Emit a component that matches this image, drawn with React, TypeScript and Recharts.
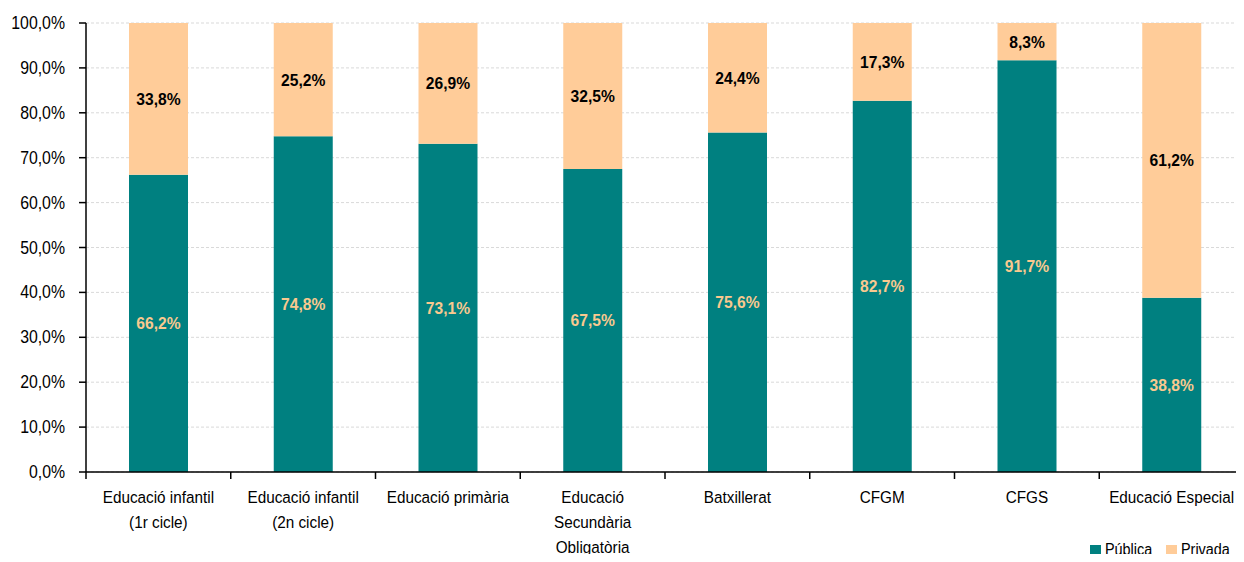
import React from 'react'
import { Bar, BarChart, CartesianGrid, LabelList, XAxis, YAxis } from 'recharts'

const categories = [
  'Educació infantil\n(1r cicle)',
  'Educació infantil\n(2n cicle)',
  'Educació primària',
  'Educació\nSecundària\nObligatòria',
  'Batxillerat',
  'CFGM',
  'CFGS',
  'Educació Especial',
]
const publica = [66.2, 74.8, 73.1, 67.5, 75.6, 82.7, 91.7, 38.8]
const privada = [33.8, 25.2, 26.9, 32.5, 24.4, 17.3, 8.3, 61.2]
const yTicks = [0, 10, 20, 30, 40, 50, 60, 70, 80, 90, 100]

const data = categories.map((name, i) => ({ name, publica: publica[i], privada: privada[i] }))

const TEAL = '#008080'
const PEACH = '#FFCC99'
const FONT = 'Liberation Sans, Arial, sans-serif'
const fmt = (v: number) => v.toFixed(1).replace('.', ',') + '%'

// category labels plus tick marks on the band boundaries (Excel style)
const CategoryTick = ({ x, y, payload, index, visibleTicksCount, width }: any) => {
  const lines = String(payload.value).split('\n')
  const n = visibleTicksCount || categories.length
  const half = payload.offset || width / n / 2
  const isLast = index === n - 1
  const ay = y - 8 // axis line position (tick y includes tickSize + margin)
  return (
    <g>
      {index === 0 && <line x1={x - half} x2={x - half + width} y1={ay} y2={ay} stroke="#000" strokeWidth={1.5} />}
      <line x1={x - half} x2={x - half} y1={ay} y2={ay + 7} stroke="#000" strokeWidth={1.5} />
      {isLast && <line x1={x + half} x2={x + half} y1={ay} y2={ay + 7} stroke="#000" strokeWidth={1.5} />}
      <g transform={`translate(${x},${y}) scale(0.9,1)`}>
        <text x={0} y={23} textAnchor="middle" fontSize={17} fill="#000" fontFamily={FONT}>
          {lines.map((l, i) => (
            <tspan key={i} x={0} dy={i === 0 ? 0 : 25}>{l}</tspan>
          ))}
        </text>
      </g>
    </g>
  )
}

const ValueTick = ({ x, y, payload }: any) => (
  <g transform={`translate(${x - 12},${y}) scale(0.88,1)`}>
    <text x={0} y={6} textAnchor="end" fontSize={18} fill="#000" fontFamily={FONT}>
      {fmt(payload.value)}
    </text>
  </g>
)

const makeLabel = (color: string) => (props: any) => {
  const { x, y, width, height, value } = props
  const cx = Number(x) + Number(width) / 2
  const cy = Number(y) + Number(height) / 2
  return (
    <g transform={`translate(${cx},${cy}) scale(0.92,1)`}>
      <text x={0} y={6} textAnchor="middle" fontSize={17} fontWeight="bold" fill={color} fontFamily={FONT}>
        {fmt(Number(value))}
      </text>
    </g>
  )
}

export default function App() {
  return (
    <div style={{ position: 'relative', width: 1244, height: 562, margin: -8, fontFamily: FONT, overflow: 'hidden' }}>
      <BarChart width={1244} height={562} data={data} margin={{ top: 23, right: 0, bottom: 0, left: 0 }} barSize={59}>
        <CartesianGrid vertical={false} stroke="#d9d9d9" strokeDasharray="3 2" />
        <XAxis
          dataKey="name"
          height={90}
          axisLine={false}
          tickLine={false}
          interval={0}
          tick={<CategoryTick />}
        />
        <YAxis
          domain={[0, 100]}
          ticks={yTicks}
          width={86}
          tick={<ValueTick />}
          tickSize={7}
          tickLine={{ stroke: '#000', strokeWidth: 1.5 }}
          axisLine={{ stroke: '#000', strokeWidth: 1.5 }}
        />
        <Bar dataKey="publica" stackId="a" fill={TEAL} isAnimationActive={false}>
          <LabelList dataKey="publica" content={makeLabel('#F9C98F')} />
        </Bar>
        <Bar dataKey="privada" stackId="a" fill={PEACH} isAnimationActive={false}>
          <LabelList dataKey="privada" content={makeLabel('#000')} />
        </Bar>
      </BarChart>
      <div style={{ position: 'absolute', left: 1090, top: 541, display: 'flex', alignItems: 'center', fontSize: 16, whiteSpace: 'nowrap', fontFamily: FONT }}>
        <span style={{ width: 11, height: 11, background: TEAL, display: 'inline-block', marginRight: 4 }} />
        <span style={{ marginRight: 9, display: 'inline-block', transform: 'scaleX(0.9)', transformOrigin: 'left' }}>Pública</span>
        <span style={{ width: 11, height: 11, background: PEACH, display: 'inline-block', marginRight: 4 }} />
        <span style={{ display: 'inline-block', transform: 'scaleX(0.9)', transformOrigin: 'left' }}>Privada</span>
      </div>
    </div>
  )
}
